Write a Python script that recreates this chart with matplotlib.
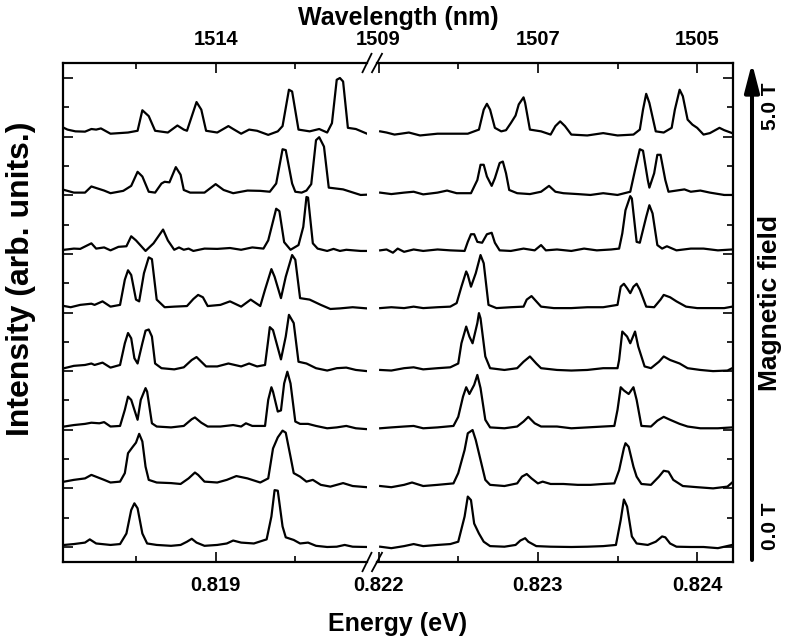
import matplotlib
matplotlib.use("Agg")
import matplotlib.pyplot as plt
from matplotlib.ticker import FixedLocator, NullFormatter
from matplotlib.patches import FancyArrowPatch

plt.rcParams['font.family'] = ['Liberation Sans', 'DejaVu Sans']
plt.rcParams['font.weight'] = 'bold'

# ---------------- data (energy in eV, intensity in arb. units above each trace offset) -------------
# trace 0 = 0.0 T (bottom) ... trace 7 = 5.0 T (top)
left_e0 = [0.81805,0.81811,0.81818,0.81821,0.81825,0.81834,0.81840,0.81844,0.81847,0.81849,0.81851,0.81854,0.81857,0.81863,0.81872,0.81878,0.81882,0.81885,0.81888,0.81893,0.81901,0.81907,0.81911,0.81916,0.81924,0.81932,0.81935,0.81937,0.81939,0.81942,0.81944,0.81949,0.81953,0.81958,0.81963,0.81970,0.81976,0.81981,0.81986,0.81995]
left_i0 = [0.035,0.05,0.075,0.13,0.06,0.035,0.05,0.23,0.63,0.745,0.66,0.23,0.06,0.035,0.02,0.035,0.09,0.14,0.075,0.02,0.035,0.06,0.11,0.075,0.06,0.13,0.52,0.97,0.96,0.35,0.165,0.12,0.06,0.075,0.02,0.0,0.005,0.035,0.005,0.0]

left_e1 = [0.81805,0.81811,0.81818,0.81822,0.81830,0.81834,0.81840,0.81843,0.81845,0.81848,0.81850,0.81852,0.81854,0.81856,0.81858,0.81863,0.81872,0.81878,0.81883,0.81887,0.81889,0.81893,0.81901,0.81907,0.81913,0.81920,0.81928,0.81933,0.81936,0.81939,0.81942,0.81944,0.81947,0.81949,0.81953,0.81957,0.81961,0.81966,0.81972,0.81980,0.81986,0.81995]
left_i1 = [0.115,0.145,0.17,0.23,0.145,0.10,0.115,0.26,0.60,0.71,0.78,0.93,0.80,0.37,0.145,0.10,0.09,0.075,0.17,0.27,0.23,0.115,0.10,0.145,0.21,0.17,0.10,0.17,0.68,0.87,0.985,0.95,0.54,0.26,0.20,0.115,0.145,0.06,0.03,0.09,0.04,0.02]

left_e2 = [0.81805,0.81811,0.81818,0.81822,0.81827,0.81830,0.81834,0.81840,0.81843,0.81845,0.81847,0.81851,0.81853,0.81856,0.81857,0.81860,0.81863,0.81872,0.81880,0.81885,0.81887,0.81891,0.81895,0.81903,0.81911,0.81916,0.81919,0.81923,0.81931,0.81933,0.81935,0.81936,0.81939,0.81941,0.81943,0.81945,0.81947,0.81950,0.81953,0.81958,0.81963,0.81970,0.81976,0.81982,0.81988,0.81995]
left_i2 = [0.055,0.08,0.10,0.12,0.11,0.13,0.055,0.065,0.34,0.565,0.51,0.17,0.51,0.71,0.65,0.11,0.055,0.04,0.065,0.18,0.21,0.12,0.055,0.055,0.08,0.055,0.11,0.065,0.065,0.51,0.725,0.65,0.31,0.33,0.79,0.99,0.79,0.14,0.10,0.10,0.065,0.025,0.04,0.065,0.025,0.01]

left_e3 = [0.81805,0.81811,0.81818,0.81822,0.81824,0.81829,0.81834,0.81840,0.81843,0.81845,0.81847,0.81849,0.81851,0.81854,0.81856,0.81858,0.81860,0.81862,0.81866,0.81874,0.81880,0.81885,0.81888,0.81891,0.81894,0.81901,0.81908,0.81916,0.81921,0.81926,0.81931,0.81933,0.81934,0.81936,0.81941,0.81944,0.81946,0.81949,0.81952,0.81957,0.81963,0.81970,0.81976,0.81982,0.81988,0.81995]
left_i3 = [0.05,0.09,0.105,0.13,0.105,0.145,0.06,0.105,0.475,0.65,0.56,0.22,0.13,0.475,0.69,0.71,0.59,0.13,0.05,0.03,0.065,0.19,0.24,0.16,0.08,0.08,0.13,0.08,0.13,0.08,0.105,0.53,0.75,0.70,0.20,0.59,0.96,0.82,0.16,0.13,0.05,0.01,0.05,0.06,0.02,0.0]

left_e4 = [0.81805,0.81809,0.81815,0.81822,0.81824,0.81829,0.81834,0.81840,0.81843,0.81845,0.81847,0.81850,0.81852,0.81855,0.81858,0.81860,0.81863,0.81868,0.81874,0.81882,0.81886,0.81889,0.81892,0.81895,0.81903,0.81909,0.81916,0.81922,0.81928,0.81931,0.81935,0.81937,0.81941,0.81944,0.81948,0.81950,0.81953,0.81959,0.81966,0.81972,0.81978,0.81986,0.81995]
left_i4 = [0.11,0.09,0.13,0.15,0.13,0.19,0.10,0.13,0.56,0.72,0.64,0.22,0.19,0.67,0.94,0.91,0.22,0.09,0.10,0.11,0.23,0.30,0.26,0.11,0.13,0.19,0.10,0.22,0.11,0.39,0.74,0.61,0.245,0.61,0.98,0.90,0.245,0.22,0.13,0.06,0.07,0.09,0.07]

left_e5 = [0.81805,0.81811,0.81815,0.81822,0.81825,0.81830,0.81834,0.81839,0.81844,0.81847,0.81850,0.81856,0.81861,0.81867,0.81870,0.81874,0.81877,0.81880,0.81883,0.81886,0.81893,0.81901,0.81909,0.81916,0.81923,0.81930,0.81933,0.81938,0.81940,0.81943,0.81947,0.81952,0.81955,0.81957,0.81958,0.81961,0.81964,0.81970,0.81974,0.81978,0.81982,0.81991,0.81995]
left_i5 = [0.07,0.09,0.085,0.18,0.09,0.11,0.06,0.12,0.13,0.30,0.23,0.05,0.18,0.415,0.23,0.07,0.11,0.07,0.09,0.05,0.09,0.085,0.10,0.07,0.11,0.09,0.23,0.77,0.73,0.20,0.07,0.15,0.46,0.97,0.96,0.18,0.09,0.05,0.085,0.05,0.07,0.05,0.05]

left_e6 = [0.81805,0.81811,0.81818,0.81822,0.81830,0.81834,0.81842,0.81847,0.81851,0.81854,0.81858,0.81862,0.81866,0.81868,0.81871,0.81875,0.81878,0.81880,0.81884,0.81893,0.81900,0.81905,0.81911,0.81920,0.81928,0.81934,0.81938,0.81942,0.81944,0.81948,0.81950,0.81954,0.81957,0.81960,0.81963,0.81965,0.81968,0.81971,0.81980,0.81991,0.81995]
left_i6 = [0.09,0.045,0.045,0.15,0.08,0.035,0.075,0.16,0.40,0.32,0.06,0.045,0.20,0.23,0.22,0.48,0.35,0.09,0.045,0.045,0.19,0.09,0.035,0.08,0.075,0.06,0.20,0.785,0.77,0.20,0.06,0.045,0.08,0.19,0.94,0.99,0.83,0.13,0.10,0.005,0.01]

left_e7 = [0.81804,0.81807,0.81812,0.81818,0.81822,0.81825,0.81828,0.81834,0.81845,0.81851,0.81854,0.81858,0.81862,0.81870,0.81876,0.81880,0.81882,0.81888,0.81891,0.81894,0.81901,0.81908,0.81911,0.81916,0.81921,0.81926,0.81933,0.81939,0.81942,0.81946,0.81948,0.81952,0.81959,0.81965,0.81970,0.81973,0.81976,0.81978,0.81980,0.81983,0.81988,0.81995]
left_i7 = [0.16,0.12,0.09,0.085,0.13,0.12,0.14,0.05,0.07,0.10,0.45,0.35,0.10,0.07,0.19,0.12,0.10,0.59,0.46,0.10,0.07,0.18,0.13,0.05,0.12,0.10,0.03,0.09,0.18,0.80,0.77,0.12,0.09,0.13,0.07,0.23,0.97,1.00,0.94,0.15,0.13,0.05]

right_e0 = [0.82201,0.82208,0.82216,0.82222,0.82228,0.82237,0.82245,0.82250,0.82254,0.82256,0.82258,0.82260,0.82263,0.82266,0.82270,0.82279,0.82286,0.82289,0.82292,0.82294,0.82299,0.82308,0.82321,0.82331,0.82341,0.82349,0.82352,0.82354,0.82356,0.82359,0.82362,0.82369,0.82374,0.82378,0.82380,0.82383,0.82387,0.82396,0.82404,0.82413,0.82422]
right_i0 = [0.005,-0.02,0.015,0.05,0.015,0.035,0.05,0.09,0.52,0.86,0.80,0.40,0.23,0.09,0.015,0.005,0.035,0.11,0.15,0.09,0.015,0.005,0.0,0.005,0.015,0.035,0.46,0.81,0.69,0.18,0.06,0.035,0.09,0.18,0.165,0.06,0.005,0.0,0.0,-0.02,0.035]

right_e1 = [0.82201,0.82208,0.82216,0.82221,0.82228,0.82237,0.82247,0.82250,0.82254,0.82256,0.82259,0.82261,0.82264,0.82267,0.82270,0.82279,0.82287,0.82290,0.82293,0.82296,0.82300,0.82303,0.82308,0.82316,0.82325,0.82333,0.82341,0.82348,0.82351,0.82354,0.82355,0.82357,0.82360,0.82362,0.82365,0.82371,0.82376,0.82379,0.82382,0.82385,0.82391,0.82400,0.82410,0.82419,0.82422]
right_i1 = [0.04,0.02,0.06,0.10,0.04,0.06,0.085,0.26,0.655,0.94,0.995,0.825,0.485,0.145,0.06,0.04,0.085,0.20,0.245,0.17,0.085,0.115,0.075,0.075,0.06,0.06,0.075,0.085,0.31,0.685,0.77,0.71,0.37,0.20,0.075,0.06,0.20,0.30,0.285,0.145,0.04,0.02,0.0,0.03,0.10]

right_e2 = [0.82201,0.82208,0.82216,0.82222,0.82228,0.82237,0.82247,0.82250,0.82253,0.82255,0.82257,0.82260,0.82262,0.82264,0.82267,0.82270,0.82279,0.82287,0.82291,0.82294,0.82298,0.82302,0.82312,0.82321,0.82331,0.82341,0.82348,0.82350,0.82352,0.82354,0.82357,0.82360,0.82362,0.82365,0.82371,0.82375,0.82379,0.82383,0.82389,0.82394,0.82402,0.82413,0.82422]
right_i2 = [0.025,0.04,0.055,0.065,0.025,0.04,0.065,0.22,0.565,0.725,0.61,0.765,0.935,0.71,0.17,0.04,0.025,0.055,0.14,0.22,0.11,0.055,0.055,0.025,0.04,0.055,0.065,0.34,0.725,0.67,0.61,0.725,0.51,0.065,0.055,0.155,0.22,0.17,0.10,0.055,0.025,0.025,0.04]

right_e3 = [0.82201,0.82208,0.82216,0.82222,0.82228,0.82237,0.82245,0.82250,0.82252,0.82255,0.82257,0.82259,0.82262,0.82263,0.82264,0.82267,0.82270,0.82279,0.82287,0.82291,0.82295,0.82299,0.82302,0.82312,0.82321,0.82331,0.82341,0.82350,0.82351,0.82353,0.82356,0.82358,0.82361,0.82363,0.82367,0.82371,0.82376,0.82379,0.82383,0.82389,0.82394,0.82402,0.82410,0.82419,0.82422]
right_i3 = [0.02,0.01,0.05,0.065,0.03,0.05,0.065,0.13,0.475,0.76,0.59,0.475,0.82,0.99,0.90,0.25,0.05,0.02,0.05,0.16,0.25,0.13,0.05,0.02,0.01,0.02,0.05,0.05,0.19,0.675,0.59,0.475,0.675,0.42,0.08,0.05,0.16,0.25,0.19,0.13,0.05,0.02,0.0,0.01,0.05]

right_e4 = [0.82201,0.82208,0.82216,0.82222,0.82228,0.82237,0.82245,0.82249,0.82252,0.82255,0.82256,0.82258,0.82261,0.82264,0.82266,0.82269,0.82274,0.82283,0.82291,0.82293,0.82296,0.82299,0.82302,0.82310,0.82321,0.82331,0.82341,0.82350,0.82352,0.82354,0.82356,0.82358,0.82360,0.82362,0.82364,0.82368,0.82373,0.82377,0.82379,0.82383,0.82387,0.82393,0.82400,0.82408,0.82417,0.82422]
right_i4 = [0.075,0.09,0.075,0.10,0.075,0.09,0.10,0.16,0.44,0.70,0.64,0.44,0.67,0.98,0.84,0.13,0.075,0.09,0.10,0.22,0.28,0.19,0.10,0.075,0.075,0.09,0.09,0.13,0.44,0.49,0.415,0.33,0.44,0.49,0.39,0.10,0.09,0.22,0.30,0.26,0.19,0.10,0.075,0.075,0.075,0.10]

right_e5 = [0.82201,0.82205,0.82209,0.82212,0.82216,0.82222,0.82228,0.82237,0.82245,0.82254,0.82256,0.82258,0.82260,0.82262,0.82265,0.82268,0.82271,0.82273,0.82276,0.82283,0.82291,0.82298,0.82302,0.82305,0.82312,0.82321,0.82329,0.82337,0.82346,0.82351,0.82353,0.82355,0.82358,0.82359,0.82362,0.82364,0.82368,0.82370,0.82372,0.82375,0.82378,0.82381,0.82387,0.82396,0.82404,0.82413,0.82422]
right_i5 = [0.06,0.075,0.02,0.09,0.035,0.075,0.05,0.075,0.06,0.05,0.205,0.335,0.335,0.205,0.19,0.335,0.36,0.19,0.06,0.05,0.09,0.06,0.15,0.06,0.075,0.05,0.09,0.06,0.075,0.09,0.35,0.745,0.985,0.945,0.205,0.19,0.63,0.83,0.69,0.15,0.09,0.13,0.06,0.09,0.09,0.06,0.075]

right_e6 = [0.82201,0.82208,0.82216,0.82222,0.82228,0.82237,0.82243,0.82249,0.82258,0.82262,0.82264,0.82266,0.82268,0.82271,0.82273,0.82276,0.82278,0.82280,0.82282,0.82287,0.82295,0.82302,0.82307,0.82311,0.82316,0.82325,0.82333,0.82341,0.82350,0.82358,0.82361,0.82364,0.82366,0.82369,0.82370,0.82373,0.82375,0.82377,0.82380,0.82382,0.82387,0.82392,0.82396,0.82402,0.82408,0.82417,0.82422]
right_i6 = [0.045,0.02,0.045,0.06,0.015,0.045,0.08,0.035,0.035,0.26,0.52,0.52,0.32,0.16,0.29,0.55,0.575,0.375,0.09,0.035,0.02,0.06,0.16,0.06,0.035,0.02,0.005,0.035,0.005,0.06,0.43,0.785,0.76,0.26,0.13,0.375,0.69,0.69,0.26,0.06,0.08,0.10,0.06,0.08,0.045,0.005,0.005]

right_e7 = [0.82201,0.82205,0.82210,0.82214,0.82219,0.82226,0.82237,0.82247,0.82256,0.82263,0.82266,0.82268,0.82270,0.82273,0.82277,0.82280,0.82283,0.82286,0.82288,0.82291,0.82292,0.82295,0.82302,0.82308,0.82311,0.82314,0.82317,0.82321,0.82331,0.82341,0.82350,0.82360,0.82364,0.82366,0.82368,0.82370,0.82374,0.82379,0.82384,0.82386,0.82389,0.82391,0.82394,0.82397,0.82400,0.82404,0.82408,0.82414,0.82417,0.82422]
right_i7 = [0.09,0.07,0.035,0.05,0.07,0.02,0.05,0.05,0.05,0.12,0.46,0.56,0.46,0.15,0.09,0.11,0.23,0.36,0.55,0.67,0.575,0.12,0.09,0.035,0.18,0.26,0.18,0.035,0.02,0.06,0.02,0.035,0.12,0.46,0.73,0.575,0.09,0.07,0.15,0.46,0.80,0.69,0.29,0.205,0.15,0.035,0.06,0.15,0.11,0.06]

left_energy = [left_e0, left_e1, left_e2, left_e3, left_e4, left_e5, left_e6, left_e7]
left_intensity = [left_i0, left_i1, left_i2, left_i3, left_i4, left_i5, left_i6, left_i7]
right_energy = [right_e0, right_e1, right_e2, right_e3, right_e4, right_e5, right_e6, right_e7]
right_intensity = [right_i0, right_i1, right_i2, right_i3, right_i4, right_i5, right_i6, right_i7]

left_xlim = (0.81804, 0.81995)
right_xlim = (0.82199, 0.824225)
left_major = [0.819]
left_minor = [0.8185, 0.8195]
right_major = [0.822, 0.823, 0.824]
right_minor = [0.8225, 0.8235]
left_energy_labels = ["0.819"]
right_energy_labels = ["0.822", "0.823", "0.824"]
left_wavelength_labels = ["1514"]
right_wavelength_labels = ["1509", "1507", "1505"]
field_labels = ["0.0 T", "5.0 T"]

# ---------------- figure ----------------
W, H = 788, 644
fig = plt.figure(figsize=(W / 100, H / 100), dpi=100)
bottom = 1 - 562 / H
height = 499 / H
axL = fig.add_axes([62.7 / W, bottom, 304.3 / W, height])
axR = fig.add_axes([377 / W, bottom, 356 / W, height])

LW = 1.6
for ax, E, I in ((axL, left_energy, left_intensity), (axR, right_energy, right_intensity)):
    for k in range(len(E)):
        ax.plot(E[k], [k + v for v in I[k]], color='black', lw=LW, solid_joinstyle='round')
    ax.set_ylim(-0.256, 8.256)
    ax.yaxis.set_major_locator(FixedLocator(list(range(0, 9))))
    ax.yaxis.set_minor_locator(FixedLocator([k + 0.5 for k in range(8)]))
    ax.yaxis.set_major_formatter(NullFormatter())
    for s in ax.spines.values():
        s.set_linewidth(1.6)

axL.set_xlim(*left_xlim)
axR.set_xlim(*right_xlim)
axL.spines['right'].set_visible(False)
axR.spines['left'].set_visible(False)

tick_kw = dict(direction='in', width=1.2, labelsize=14.5, pad=10)
for ax, maj, mn, lab in ((axL, left_major, left_minor, left_energy_labels),
                         (axR, right_major, right_minor, right_energy_labels)):
    ax.xaxis.set_major_locator(FixedLocator(maj))
    ax.xaxis.set_minor_locator(FixedLocator(mn))
    ax.set_xticklabels(lab)
    ax.tick_params(axis='both', which='major', length=7, **tick_kw)
    ax.tick_params(axis='both', which='minor', length=4, **tick_kw)

axL.tick_params(axis='y', which='both', left=True, right=False)
axR.tick_params(axis='y', which='both', left=False, right=True)

for ax, maj, mn, lab in ((axL, left_major, left_minor, left_wavelength_labels),
                         (axR, right_major, right_minor, right_wavelength_labels)):
    tw = ax.twiny()
    tw.set_xlim(ax.get_xlim())
    tw.xaxis.set_major_locator(FixedLocator(maj))
    tw.xaxis.set_minor_locator(FixedLocator(mn))
    tw.set_xticklabels(lab)
    tw.tick_params(axis='x', which='major', length=7, **tick_kw)
    tw.tick_params(axis='x', which='minor', length=4, **tick_kw)
    for s in tw.spines.values():
        s.set_visible(False)

# break marks
dy = 9.2 / 499
for ax, xc, dx in ((axL, 1.0, 4.5 / 304.3), (axR, 0.0, 5.0 / 356)):
    for yc in (0.0, 1.0):
        ax.plot([xc - dx, xc + dx], [yc - dy, yc + dy], transform=ax.transAxes,
                color='black', lw=1.3, clip_on=False)

# axis labels
fig.text(398 / W, 1 - 624 / H, "Energy (eV)", ha='center', va='center', fontsize=18, fontweight='bold')
fig.text(398 / W, 1 - 18.5 / H, "Wavelength (nm)", ha='center', va='center', fontsize=18, fontweight='bold')
fig.text(21 / W, 1 - 279 / H, "Intensity (arb. units.)", ha='center', va='center', rotation=90,
         fontsize=23, fontweight='bold')

# magnetic field arrow
arrow = FancyArrowPatch((752 / W, 1 - 560 / H), (752 / W, 1 - 63 / H), transform=fig.transFigure,
                        arrowstyle='-|>,head_length=0.85,head_width=0.22', mutation_scale=20,
                        lw=2.9, color='black', shrinkA=0, shrinkB=0)
fig.add_artist(arrow)
fig.text(770 / W, 1 - 106 / H, field_labels[1], ha='center', va='center', rotation=90,
         fontsize=15, fontweight='bold')
fig.text(770 / W, 1 - 303 / H, "Magnetic field", ha='center', va='center', rotation=90,
         fontsize=19, fontweight='bold')
fig.text(770 / W, 1 - 526 / H, field_labels[0], ha='center', va='center', rotation=90,
         fontsize=15, fontweight='bold')

fig.savefig("out.png", dpi=100)
